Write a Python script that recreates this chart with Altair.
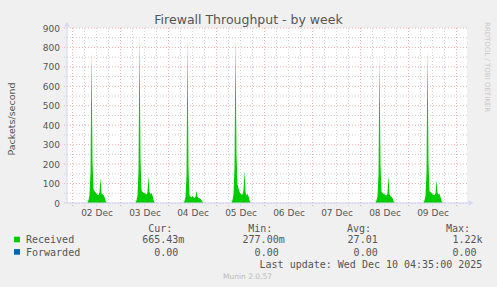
import altair as alt
import pandas as pd

# ---------------- data ----------------
day_dates = ["2025-12-02", "2025-12-03", "2025-12-04", "2025-12-05", "2025-12-08", "2025-12-09"]
sample_hours = [7.5, 8.0, 8.5, 9.0, 9.5, 10.0, 10.5, 11.0, 11.5, 12.0, 12.5,
                13.0, 13.5, 14.0, 14.5, 15.0, 15.5, 16.0, 16.5, 17.0, 17.5]
received_dec02 = [0, 15, 40, 160, 780, 220, 70, 62, 55, 48, 42, 40, 55, 128, 50, 45, 40, 32, 12, 0, 0]
received_dec03 = [0, 14, 38, 170, 860, 230, 65, 58, 52, 50, 46, 44, 58, 139, 55, 48, 50, 38, 14, 0, 0]
received_dec04 = [0, 10, 30, 140, 840, 180, 40, 32, 28, 35, 30, 26, 32, 63, 32, 26, 24, 20, 14, 6, 0]
received_dec05 = [0, 16, 45, 180, 850, 250, 95, 75, 58, 48, 44, 44, 65, 166, 55, 40, 46, 35, 12, 0, 0]
received_dec08 = [0, 14, 35, 150, 750, 200, 58, 52, 48, 45, 40, 38, 50, 139, 44, 36, 32, 26, 10, 0, 0]
received_dec09 = [0, 14, 38, 160, 790, 210, 62, 56, 50, 45, 42, 40, 50, 118, 52, 44, 46, 32, 10, 0, 0]
received_by_day = [received_dec02, received_dec03, received_dec04,
                   received_dec05, received_dec08, received_dec09]

range_start = "2025-12-01T21:15:00"
range_end = "2025-12-10T05:15:00"
grid_days = ["2025-12-02", "2025-12-03", "2025-12-04", "2025-12-05", "2025-12-06",
             "2025-12-07", "2025-12-08", "2025-12-09", "2025-12-10"]
label_days = grid_days[:-1]
minor_offsets_hours = [6, 12, 18]
y_major = [0, 100, 200, 300, 400, 500, 600, 700, 800, 900]
y_minor = [50, 150, 250, 350, 450, 550, 650, 750, 850]

title_text = "Firewall Throughput - by week"
y_title = "Packets/second"
legend_names = ["Received", "Forwarded"]
legend_colors = ["#00CC00", "#0066B3"]
col_headers = ["Cur:", "Min:", "Avg:", "Max:"]
received_stats = ["665.43m", "277.00m", "27.01", "1.22k"]
forwarded_stats = ["0.00", "0.00", "0.00", "0.00"]
last_update = "Last update: Wed Dec 10 04:35:00 2025"
footer = "Munin 2.0.57"
side_text = "RRDTOOL / TOBI OETIKER"

# ---------------- helpers ----------------
HOUR = 3_600_000


def ms(ts):
    return int(pd.Timestamp(ts, tz="UTC").value // 1_000_000)


rows = []
for d, vals in zip(day_dates, received_by_day):
    base = ms(d)
    for h, v in zip(sample_hours, vals):
        rows.append({"t": base + h * HOUR, "v": v})
area_df = pd.DataFrame(rows)

x_major_df = pd.DataFrame({"t": [ms(d) for d in grid_days]})
x_minor_df = pd.DataFrame({"t": [ms(d) + o * HOUR for d in label_days for o in minor_offsets_hours]})
y_major_df = pd.DataFrame({"v": y_major})
y_minor_df = pd.DataFrame({"v": y_minor})
noon_ticks = [ms(d) + 12 * HOUR for d in label_days]

xscale = alt.Scale(type="utc", domain=[ms(range_start), ms(range_end)])
yscale = alt.Scale(domain=[0, 900], nice=False, zero=True)

FONT = "DejaVu Sans"
MONO = "DejaVu Sans Mono"
TXT = "#555555"
GRAY = "#d2d2d2"
RED = "#f0b0b0"
AXIS = "#CFD6F8"

x_axis = alt.Axis(
    values=noon_ticks, labelExpr="utcFormat(datum.value, '%d %b')",
    grid=False, ticks=False, tickSize=0, domain=False, title=None,
    labelFont=FONT, labelFontSize=9, labelColor=TXT, labelPadding=5, labelFlush=False)
y_axis = alt.Axis(
    values=y_major, grid=False, ticks=False, tickSize=0, domain=False, title=None,
    labelFont=FONT, labelFontSize=9, labelColor=TXT, labelPadding=7.5)

one = pd.DataFrame({"k": [0]})


def label(text, x, y, size, font=FONT, color=TXT, align="left", angle=0):
    return alt.Chart(one).mark_text(
        text=text, font=font, fontSize=size, color=color, align=align,
        baseline="alphabetic", angle=angle
    ).encode(x=alt.value(x), y=alt.value(y))


layers = []
# grid
layers.append(alt.Chart(x_minor_df).mark_rule(color=GRAY, strokeDash=[1, 2], strokeWidth=1).encode(
    x=alt.X("t:T", scale=xscale, axis=x_axis), y=alt.value(0), y2=alt.value(178)))
layers.append(alt.Chart(y_minor_df).mark_rule(color=GRAY, strokeDash=[1, 2], strokeWidth=1).encode(
    y=alt.Y("v:Q", scale=yscale, axis=y_axis), x=alt.value(-3), x2=alt.value(400)))
layers.append(alt.Chart(x_major_df).mark_rule(color=RED, strokeDash=[1, 2], strokeWidth=1).encode(
    x=alt.X("t:T", scale=xscale, axis=x_axis), y=alt.value(0), y2=alt.value(178)))
layers.append(alt.Chart(y_major_df).mark_rule(color=RED, strokeDash=[1, 2], strokeWidth=1).encode(
    y=alt.Y("v:Q", scale=yscale, axis=y_axis), x=alt.value(-3), x2=alt.value(400)))

# data area
layers.append(alt.Chart(area_df).mark_area(color="#00CC00", clip=True).encode(
    x=alt.X("t:T", scale=xscale, axis=x_axis),
    y=alt.Y("v:Q", scale=yscale, axis=y_axis),
))

# axis lines + arrows
layers.append(alt.Chart(one).mark_rule(color=AXIS, strokeWidth=1).encode(
    x=alt.value(0), y=alt.value(-3), y2=alt.value(175)))
layers.append(alt.Chart(one).mark_rule(color=AXIS, strokeWidth=1).encode(
    y=alt.value(175), x=alt.value(-2), x2=alt.value(403)))
layers.append(alt.Chart(one).mark_point(shape="triangle-up", filled=True, color=AXIS, size=28, opacity=1).encode(
    x=alt.value(0), y=alt.value(-3.8)))
layers.append(alt.Chart(one).mark_point(shape="triangle-right", filled=True, color=AXIS, size=28, opacity=1).encode(
    x=alt.value(404), y=alt.value(175)))

# texts
layers.append(label(title_text, 181.5, -4.5, 12.5, align="center"))
layers.append(label(y_title, -52.5, 91, 9.5, align="center", angle=270))
layers.append(label(side_text, 418, 39, 7, color="#c8c8c8", align="center", angle=90))

header_right = [105.3, 205.3, 304, 403]
col_right = [117.3, 217.7, 316.7, 415.5]
for h, xr in zip(col_headers, header_right):
    layers.append(label(h, xr, 203.7, 10, font=MONO, align="right"))

row_base = [215.3, 227.7]
for name, color, stats, yb in zip(legend_names, legend_colors, [received_stats, forwarded_stats], row_base):
    layers.append(alt.Chart(one).mark_rect(color=color).encode(
        x=alt.value(-53), x2=alt.value(-47), y=alt.value(yb - 6.6), y2=alt.value(yb - 1)))
    layers.append(label(name, -41, yb, 10, font=MONO))
    for s, xr in zip(stats, col_right):
        shift = 0 if s[-1].isalpha() else 6
        layers.append(label(s, xr - shift, yb, 10, font=MONO, align="right"))

layers.append(label(last_update, 415.3, 239.5, 10, font=MONO, align="right"))
layers.append(label(footer, 180.5, 251, 7.5, color="#bbbbbb", align="center"))

chart = alt.layer(*layers).properties(
    width=400, height=175,
    autosize=alt.AutoSizeParams(type="none"),
    padding={"left": 67, "top": 28, "right": 30, "bottom": 84},
    background="#F0F0F0",
).configure_view(fill="white", strokeWidth=0)

chart.save("out.html", embed_options={"renderer": "svg", "actions": False})
